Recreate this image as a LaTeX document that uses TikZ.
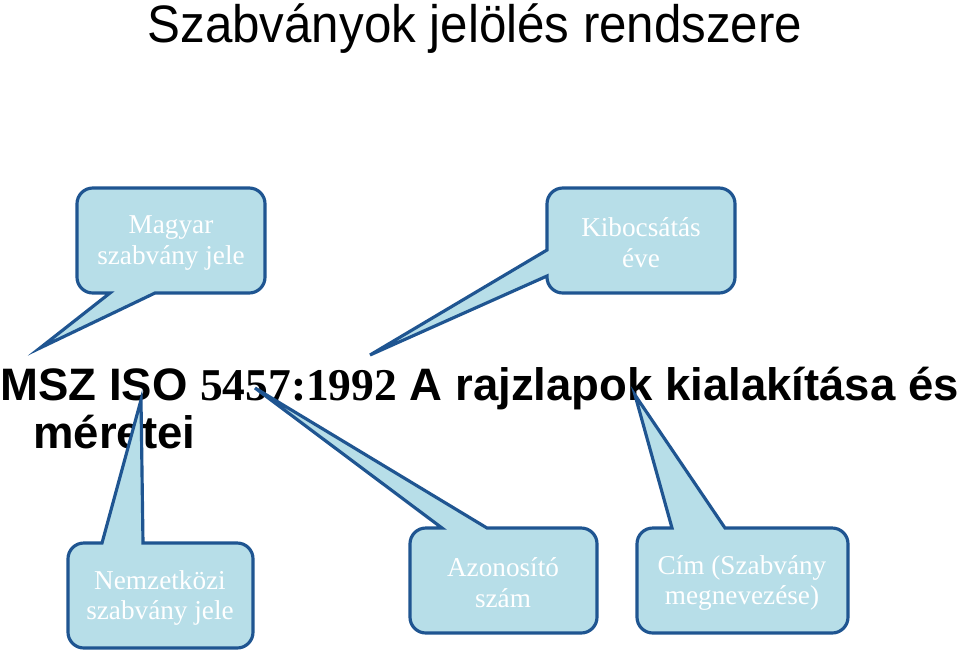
\documentclass[tikz,border=0pt]{standalone}
\usepackage{fontspec}
\setmainfont{Liberation Serif}
\newfontfamily\arialfont{Liberation Sans}
\definecolor{buborek}{RGB}{183,222,232}
\definecolor{keret}{HTML}{1F5591}

\begin{document}
\begin{tikzpicture}[
    x=0.02cm, y=-0.02cm,
    callout/.style={draw=keret, fill=buborek, line width=1.8pt},
    felirat/.style={align=center, text=white, inner sep=0pt, font=\fontsize{15.5}{17.5}\selectfont},
    fosor/.style={anchor=base west, inner sep=0pt, font=\fontsize{25.9}{30}\selectfont\bfseries}
]
\useasboundingbox (0,0) rectangle (960,653);

% Cim
\node[anchor=base, inner sep=0pt, font=\arialfont\fontsize{30}{34}\selectfont] (cimsor) at (475,42)
    {\scalebox{0.935}[1]{Szabványok jelölés rendszere}};

% Szabvány jelzete
\node[fosor] (jelzet) at (0,400) {\arialfont MSZ ISO {\rmfamily 5457:1992} A rajzlapok kialakítása és};
\node[fosor] (jelzet2) at (33,448) {\arialfont méretei};

% Mutatott pontok
\coordinate (msz) at (40,348);
\coordinate (ev) at (370,355);
\coordinate (iso) at (141,400);
\coordinate (szam) at (255,388);
\coordinate (cim) at (635,395);

% Buborekok
\draw[callout] (msz) -- (110,293) [rounded corners=9pt] -- (77,293) -- (77,188) -- (265,188) -- (265,293) [sharp corners] -- (155,293) -- cycle;
\draw[callout] (ev) -- (547,276) [rounded corners=9pt] -- (547,293) -- (735,293) -- (735,188) -- (547,188) [sharp corners] -- (547,250) -- cycle;
\draw[callout] (iso) -- (102,543) [rounded corners=9pt] -- (68,543) -- (68,648) -- (253,648) -- (253,543) [sharp corners] -- (143,543) -- cycle;
\draw[callout] (szam) -- (442,528) [rounded corners=9pt] -- (410,528) -- (410,633) -- (597,633) -- (597,528) [sharp corners] -- (487,528) -- cycle;
\draw[callout] (cim) -- (672,528) [rounded corners=9pt] -- (637,528) -- (637,633) -- (848,633) -- (848,528) [sharp corners] -- (725,528) -- cycle;

% Szovegek
\node[felirat] (magyar) at (171,243) {Magyar\\szabvány jele};
\node[felirat] (kibocsatas) at (641,243) {Kibocsátás\\éve};
\node[felirat] (nemzetkozi) at (160,598) {Nemzetközi\\szabvány jele};
\node[felirat] (azonosito) at (503,583) {Azonosító\\szám};
\node[felirat] (megnevezes) at (742,583) {Cím (Szabvány\\megnevezése)};

\end{tikzpicture}
\end{document}
